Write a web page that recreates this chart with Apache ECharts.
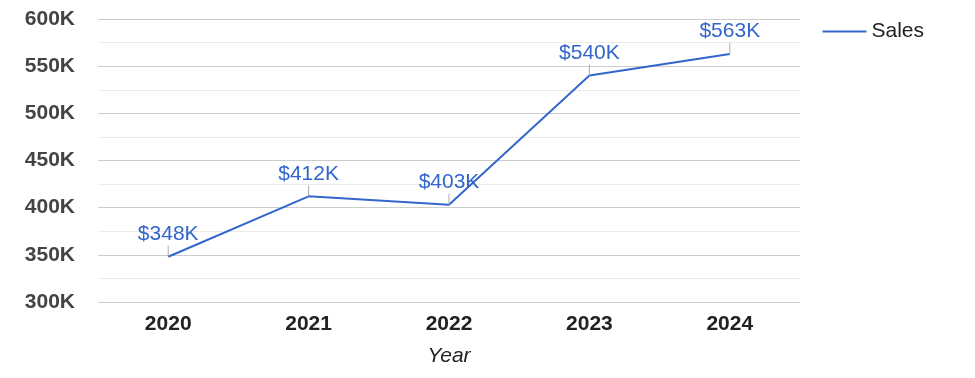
<!DOCTYPE html>
<html>
<head>
<meta charset="utf-8">
<script src="https://cdn.jsdelivr.net/npm/echarts@6/dist/echarts.min.js"></script>
<style>
  html, body { margin: 0; padding: 0; background: #fff; }
  #chart { width: 975px; height: 378px; }
</style>
</head>
<body>
<div id="chart"></div>
<script>
const years = ['2020', '2021', '2022', '2023', '2024']
const sales = [348000, 412000, 403000, 540000, 563000]
const yTicks = { min: 300000, max: 600000, interval: 50000 }

const chart = echarts.init(document.getElementById('chart'))

const fmtK = v => Math.round(v / 1000) + 'K'
const FONT = '"Liberation Sans", Arial, sans-serif'

const option = {
  animation: false,
  grid: { left: 98, right: 175, top: 19, bottom: 76 },
  legend: {
    right: 46,
    top: 16,
    itemWidth: 44,
    itemHeight: 2,
    itemGap: 10,
    icon: 'rect',
    data: [{ name: 'Sales', itemStyle: { color: '#3366cc' } }],
    textStyle: { color: '#222', fontSize: 21, fontFamily: FONT }
  },
  xAxis: {
    type: 'category',
    data: years,
    name: 'Year',
    nameLocation: 'middle',
    nameGap: 44,
    nameTextStyle: { color: '#222', fontSize: 21, fontStyle: 'italic', fontFamily: FONT },
    axisLine: { show: false },
    axisTick: { show: false },
    axisLabel: { color: '#222', fontSize: 21, fontWeight: 'bold', margin: 12, fontFamily: FONT }
  },
  yAxis: {
    type: 'value',
    min: yTicks.min,
    max: yTicks.max,
    interval: yTicks.interval,
    axisLine: { show: false },
    axisTick: { show: false },
    axisLabel: {
      color: '#444', fontSize: 21, fontWeight: 'bold', margin: 23,
      fontFamily: FONT, formatter: fmtK, padding: [3, 0, 0, 0]
    },
    splitLine: { lineStyle: { color: '#cccccc', width: 1 } },
    minorTick: { show: false, splitNumber: 2 },
    minorSplitLine: { show: true, lineStyle: { color: '#ebebeb', width: 1 } }
  },
  series: [
    {
      name: 'Sales',
      type: 'line',
      data: sales,
      symbol: 'none',
      lineStyle: { color: '#3366cc', width: 2 },
      itemStyle: { color: '#3366cc' }
    },
    {
      // leader lines and value labels
      type: 'custom',
      data: sales.map((v, i) => [i, v]),
      z: 5,
      renderItem: (params, api) => {
        const p = api.coord([api.value(0), api.value(1)])
        return {
          type: 'group',
          children: [
            {
              type: 'line',
              shape: { x1: p[0], y1: p[1], x2: p[0], y2: p[1] - 11 },
              style: { stroke: '#aaaaaa', lineWidth: 1 }
            },
            {
              type: 'text',
              style: {
                x: p[0], y: p[1] - 12,
                text: '$' + fmtK(api.value(1)),
                fill: '#3366cc',
                fontSize: 21,
                fontFamily: FONT,
                align: 'center',
                verticalAlign: 'bottom'
              }
            }
          ]
        }
      }
    }
  ]
}

chart.setOption(option)
</script>
</body>
</html>
